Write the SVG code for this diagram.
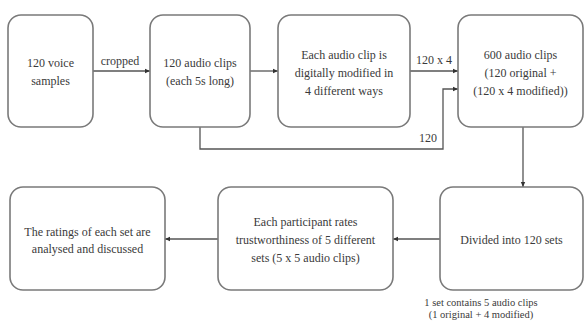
<svg xmlns="http://www.w3.org/2000/svg" width="585" height="322" viewBox="0 0 585 322">
<style>
.box{fill:#fff;stroke:#7a7a7a;stroke-width:1.6}
.t{font-family:"Liberation Serif","Times New Roman",serif;font-size:12px;fill:#3a3a3a;text-anchor:middle}
.s{font-family:"Liberation Serif","Times New Roman",serif;font-size:10.5px;fill:#3a3a3a;text-anchor:middle}
.c{fill:none;stroke:#555;stroke-width:1.3}
</style>
<defs>
<marker id="ah" markerWidth="6" markerHeight="6" refX="5" refY="3" orient="auto" markerUnits="userSpaceOnUse">
<path d="M0,0.8 L5,3 L0,5.2 z" fill="#333"/>
</marker>
</defs>
<rect width="585" height="322" fill="#fff"/>
<g id="connectors">
<line class="c" x1="93" y1="71" x2="150" y2="71" marker-end="url(#ah)"/>
<text class="t" x="120" y="65">cropped</text>
<line class="c" x1="250" y1="71" x2="278" y2="71" marker-end="url(#ah)"/>
<line class="c" x1="410" y1="71" x2="458" y2="71" marker-end="url(#ah)"/>
<text class="t" x="434" y="64">120 x 4</text>
<polyline class="c" points="200,127 200,149 443,149 443,89 458,89" marker-end="url(#ah)"/>
<text class="t" x="428" y="142">120</text>
<line class="c" x1="523" y1="127" x2="523" y2="187" marker-end="url(#ah)"/>
<line class="c" x1="440" y1="239" x2="393" y2="239" marker-end="url(#ah)"/>
<line class="c" x1="218" y1="239" x2="165" y2="239" marker-end="url(#ah)"/>
</g>
<g id="n1"><rect class="box" x="8" y="15" width="85" height="112" rx="13"/>
<text class="t" x="50.5" y="67">120 voice</text><text class="t" x="50.5" y="85">samples</text></g>
<g id="n2"><rect class="box" x="150" y="15" width="100" height="112" rx="13"/>
<text class="t" x="200" y="67">120 audio clips</text><text class="t" x="200" y="85">(each 5s long)</text></g>
<g id="n3"><rect class="box" x="278" y="15" width="132" height="112" rx="13"/>
<text class="t" x="344" y="59">Each audio clip is</text><text class="t" x="344" y="77">digitally modified in</text><text class="t" x="344" y="95">4 different ways</text></g>
<g id="n4"><rect class="box" x="458" y="15" width="125" height="112" rx="13"/>
<text class="t" x="520.5" y="59">600 audio clips</text><text class="t" x="520.5" y="77">(120 original +</text><text class="t" x="520.5" y="95">(120 x 4 modified))</text></g>
<g id="n5"><rect class="box" x="440" y="187" width="143" height="103" rx="13"/>
<text class="t" x="511.5" y="244">Divided into 120 sets</text>
<text class="s" x="481" y="306">1 set contains 5 audio clips</text><text class="s" x="481" y="318">(1 original + 4 modified)</text></g>
<g id="n6"><rect class="box" x="218" y="187" width="175" height="103" rx="13"/>
<text class="t" x="305.5" y="226">Each participant rates</text><text class="t" x="305.5" y="244">trustworthiness of 5 different</text><text class="t" x="305.5" y="262">sets (5 x 5 audio clips)</text></g>
<g id="n7"><rect class="box" x="10" y="187" width="155" height="103" rx="13"/>
<text class="t" x="87.5" y="236">The ratings of each set are</text><text class="t" x="87.5" y="253">analysed and discussed</text></g>
</svg>
